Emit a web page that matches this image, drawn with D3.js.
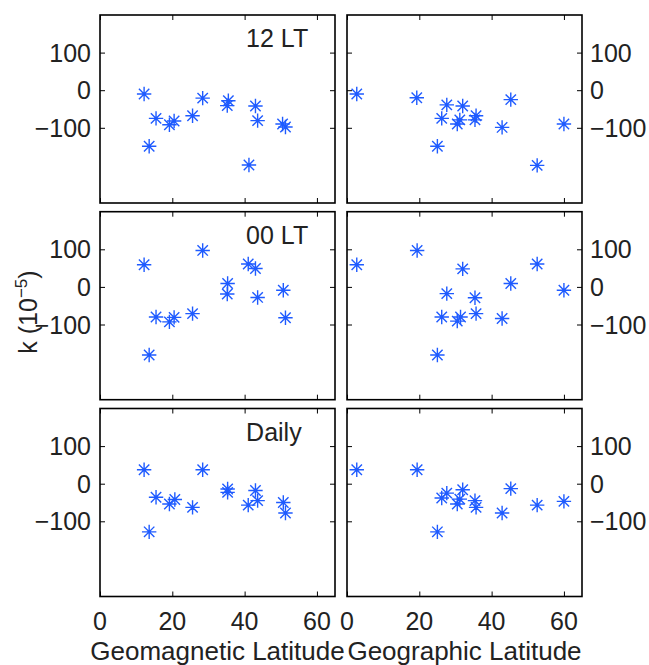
<!DOCTYPE html>
<html><head><meta charset="utf-8">
<script src="https://cdn.jsdelivr.net/npm/d3@7"></script>
<style>html,body{margin:0;padding:0;background:#fff;}svg{display:block;}</style>
</head><body>
<script>
// ---- data ----
const panelTitles = ["12 LT", "00 LT", "Daily"];
const xLabels = ["Geomagnetic Latitude", "Geographic Latitude"];
const xTicks = [0, 20, 40, 60];
const yTicks = [-100, 0, 100];
const xTickLabels = ["0", "20", "40", "60"];
const yTickLabels = ["\u2212100", "0", "100"];

// geomagnetic latitude panels
const geomag12LT_x = [12.2, 15.5, 13.6, 19.2, 20.5, 25.6, 28.4, 35.5, 35.2, 43.0, 43.6, 41.2, 50.5, 51.3];
const geomag12LT_y = [-10, -75, -149, -92, -82, -68, -21, -28, -41, -42, -81, -199, -90, -98];
const geomag00LT_x = [12.2, 28.4, 15.5, 19.2, 20.5, 25.6, 13.6, 35.3, 35.2, 41.0, 43.0, 43.6, 50.7, 51.3];
const geomag00LT_y = [59, 97, -80, -93, -81, -71, -181, 9, -19, 61, 49, -28, -9, -82];
const geomagDaily_x = [12.2, 28.4, 15.5, 19.2, 20.7, 25.6, 13.6, 35.3, 35.3, 41.0, 43.0, 43.6, 50.7, 51.3];
const geomagDaily_y = [37, 37, -36, -54, -42, -63, -128, -14, -23, -57, -18, -45, -50, -78];

// geographic latitude panels
const geog12LT_x = [2.7, 19.3, 27.6, 32.0, 26.2, 31.2, 30.5, 35.7, 35.4, 45.3, 42.9, 25.0, 52.6, 60.0];
const geog12LT_y = [-10, -20, -39, -42, -75, -79, -90, -68, -79, -25, -99, -149, -200, -90];
const geog00LT_x = [2.7, 19.4, 32.0, 27.6, 35.4, 26.2, 31.4, 30.5, 35.7, 42.9, 45.3, 52.6, 60.0, 25.0];
const geog00LT_y = [59, 97, 48, -18, -29, -80, -80, -91, -71, -84, 9, 61, -9, -181];
const geogDaily_x = [2.7, 19.4, 32.0, 27.6, 26.2, 31.2, 30.5, 35.4, 35.7, 42.9, 45.3, 52.6, 60.0, 25.0];
const geogDaily_y = [37, 37, -16, -25, -38, -41, -54, -45, -63, -78, -13, -57, -47, -128];

const panels = [
  [{x: geomag12LT_x, y: geomag12LT_y}, {x: geog12LT_x, y: geog12LT_y}],
  [{x: geomag00LT_x, y: geomag00LT_y}, {x: geog00LT_x, y: geog00LT_y}],
  [{x: geomagDaily_x, y: geomagDaily_y}, {x: geogDaily_x, y: geogDaily_y}]
];

// ---- layout ----
const W = 649, H = 665;
const colX = [[100, 335], [347, 582]];
const rowTop = [15, 211.7, 408.5];
const ph = 188;
const blue = "#1f5bff";
const font = "'Liberation Sans', Arial, Helvetica, sans-serif";

const svg = d3.select("body").append("svg").attr("width", W).attr("height", H)
  .style("font-family", font);

function star(g, cx, cy) {
  const r = 7.2, d = 5.2;
  const p = `M${cx - r},${cy}L${cx + r},${cy}M${cx},${cy - r}L${cx},${cy + r}` +
            `M${cx - d},${cy - d}L${cx + d},${cy + d}M${cx - d},${cy + d}L${cx + d},${cy - d}`;
  g.append("path").attr("d", p).attr("stroke", blue).attr("stroke-width", 1.4).attr("fill", "none");
}

for (let r = 0; r < 3; r++) {
  for (let c = 0; c < 2; c++) {
    const x = d3.scaleLinear().domain([0, 65]).range(colX[c]);
    const y = d3.scaleLinear().domain([-300, 200]).range([rowTop[r] + ph, rowTop[r]]);
    const g = svg.append("g");
    const x0 = colX[c][0], x1 = colX[c][1], y0 = rowTop[r], y1 = rowTop[r] + ph;
    const tl = 5;

    // inward ticks on all four sides
    const ax = [
      d3.axisBottom(x).tickValues(xTicks).tickSizeInner(-tl).tickSizeOuter(0).tickFormat(""),
      d3.axisTop(x).tickValues(xTicks).tickSizeInner(-tl).tickSizeOuter(0).tickFormat(""),
      d3.axisLeft(y).tickValues(yTicks).tickSizeInner(-tl).tickSizeOuter(0).tickFormat(""),
      d3.axisRight(y).tickValues(yTicks).tickSizeInner(-tl).tickSizeOuter(0).tickFormat("")
    ];
    const pos = [`translate(0,${y1})`, `translate(0,${y0})`, `translate(${x0},0)`, `translate(${x1},0)`];
    ax.forEach((a, i) => {
      const ag = g.append("g").attr("transform", pos[i]).call(a);
      ag.select(".domain").remove();
      ag.selectAll("line").attr("stroke", "#000").attr("stroke-width", 1);
    });

    // box
    g.append("rect").attr("x", x0).attr("y", y0).attr("width", x1 - x0).attr("height", y1 - y0)
      .attr("fill", "none").attr("stroke", "#000").attr("stroke-width", 1.6);

    // y tick labels
    yTicks.forEach((v, i) => {
      g.append("text")
        .attr("x", c === 0 ? x0 - 9 : x1 + 8)
        .attr("y", y(v))
        .attr("dy", "0.36em")
        .attr("text-anchor", c === 0 ? "end" : "start")
        .attr("font-size", 25).attr("fill", "#222")
        .text(yTickLabels[i]);
    });

    // x tick labels on bottom row
    if (r === 2) {
      xTicks.forEach((v, i) => {
        g.append("text").attr("x", x(v)).attr("y", 630)
          .attr("text-anchor", "middle").attr("font-size", 25).attr("fill", "#222")
          .text(xTickLabels[i]);
      });
      g.append("text").attr("x", (x0 + x1) / 2).attr("y", 660)
        .attr("text-anchor", "middle").attr("font-size", 26).attr("fill", "#222")
        .text(xLabels[c]);
    }

    // title in left panels
    if (c === 0) {
      g.append("text").attr("x", x(40) + 1.5).attr("y", y0 + 32)
        .attr("font-size", 25).attr("fill", "#222").text(panelTitles[r]);
    }

    // markers
    const d = panels[r][c];
    d.x.forEach((xv, i) => star(g, x(xv), y(d.y[i])));
  }
}

// y axis label (rotated)
const yl = svg.append("text")
  .attr("transform", "translate(37,312) rotate(-90)")
  .attr("text-anchor", "middle").attr("font-size", 25).attr("fill", "#222");
yl.append("tspan").text("k (10");
yl.append("tspan").attr("font-size", 17).attr("dy", -10).text("\u22125");
yl.append("tspan").attr("dy", 10).text(")");
</script>
</body></html>
